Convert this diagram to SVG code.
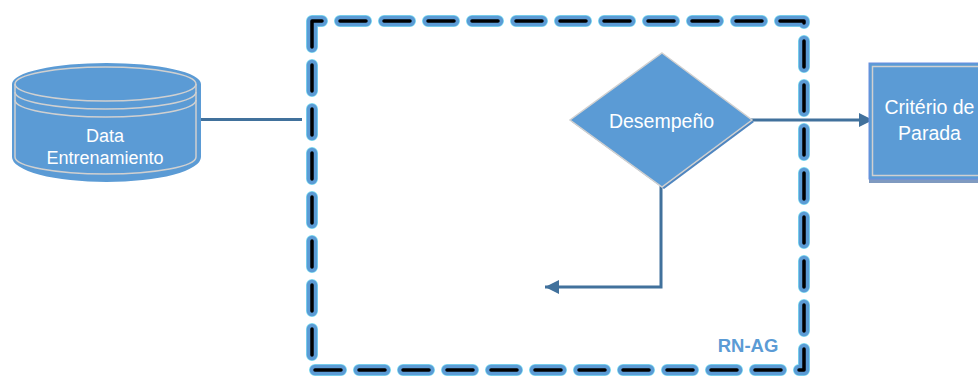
<svg xmlns="http://www.w3.org/2000/svg" width="978" height="376" viewBox="0 0 978 376">
<style>
.lbl{font-family:"Liberation Sans",Arial,sans-serif;fill:#FFFFFF;text-anchor:middle}
.conn{stroke:#41719C;stroke-width:3;fill:none}
.edge{fill:none;stroke:#D0D0D0;stroke-width:1.5}
</style>
<defs>
<marker id="arr" markerUnits="userSpaceOnUse" markerWidth="16" markerHeight="16" refX="14" refY="7" orient="auto">
<path d="M0,0 L14,7 L0,14 Z" fill="#41719C"/>
</marker>
</defs>
<rect width="978" height="376" fill="#FFFFFF"/>

<g id="rn-ag">
<path d="M312,21 V370 H804 V21 Z" fill="none" stroke="#7FDDF2" stroke-width="12" stroke-dasharray="26 18" stroke-linecap="round" stroke-linejoin="round"/>
<path d="M312,21 V370 H804 V21 Z" fill="none" stroke="#5B9BD5" stroke-width="10.5" stroke-dasharray="26 18" stroke-linecap="round" stroke-linejoin="round"/>
<path d="M312,21 V370 H804 V21 Z" fill="none" stroke="#000000" stroke-width="3.5" stroke-dasharray="26 18" stroke-linecap="round" stroke-linejoin="round"/>
<text x="748" y="352" font-family="Liberation Sans,Arial,sans-serif" font-size="18.5" font-weight="bold" fill="#5B9BD5" text-anchor="middle">RN-AG</text>
</g>

<g id="connectors">
<line class="conn" x1="198" y1="119.5" x2="302" y2="119.5"/>
<line class="conn" x1="750" y1="120" x2="873" y2="120" marker-end="url(#arr)"/>
<polyline class="conn" points="661,182 661,287 545,287" marker-end="url(#arr)"/>
</g>

<g id="data-entrenamiento">
<path d="M12,84 A94.5,21 0 0 1 201,84 V157 A94.5,25 0 0 1 12,157 Z" fill="#5B9BD5"/>
<path d="M15,84 A90.5,17 0 0 1 196,84 V157 A90.5,17 0 0 1 15,157 Z" class="edge"/>
<path d="M15,84 A90.5,17 0 0 0 196,84" class="edge"/>
<path d="M15,92 A90.5,17 0 0 0 196,92" class="edge"/>
<path d="M15,100 A90.5,17 0 0 0 196,100" class="edge"/>
<text class="lbl" x="105" y="142" font-size="18">Data</text>
<text class="lbl" x="105" y="163.5" font-size="18">Entrenamiento</text>
</g>

<g id="desempeno">
<polygon points="664,55 754,122 664,189 572,122" fill="#4F86C0"/>
<polygon points="662,53 752,120 662,187 570,120" fill="#5B9BD5" stroke="#D0D0D0" stroke-width="1.5"/>
<text class="lbl" x="661.5" y="127.5" font-size="19.5">Desempeño</text>
</g>

<g id="criterio">
<rect x="869" y="67" width="130" height="116" fill="#7F9AC0"/>
<rect x="869" y="63" width="130" height="116" fill="#5B9BD5" stroke="#6A8EE0" stroke-width="1"/>
<rect x="872.5" y="66.5" width="130" height="109" class="edge"/>
<text class="lbl" x="929.5" y="113.5" font-size="19.5">Critério de</text>
<text class="lbl" x="929.5" y="140" font-size="19.5">Parada</text>
</g>
</svg>
